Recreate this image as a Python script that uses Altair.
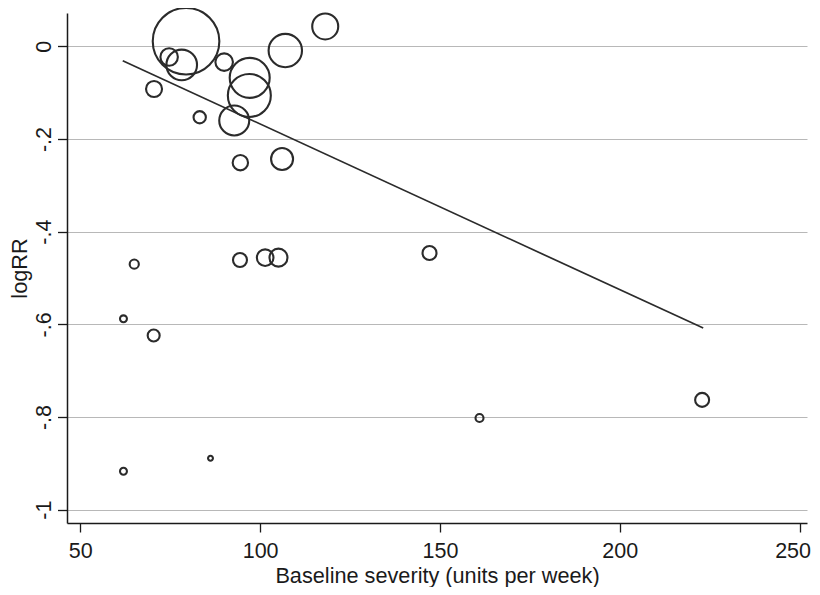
import altair as alt
import pandas as pd

# Study-level data
severity = [79.4, 74.7, 78.2, 90.0, 97.1, 97.0, 107.0, 118.1, 70.5, 83.2, 92.8, 94.5,
            106.1, 65.0, 94.4, 101.4, 105.1, 147.1, 62.0, 70.4, 62.0, 86.2, 161.0, 222.9]
log_rr = [0.011, -0.023, -0.040, -0.034, -0.068, -0.106, -0.009, 0.043, -0.092, -0.153, -0.160, -0.251,
          -0.243, -0.470, -0.461, -0.456, -0.456, -0.446, -0.588, -0.624, -0.917, -0.889, -0.802, -0.763]
weight = [1109, 76, 234, 77, 400, 462, 279, 169, 64, 38, 225, 59,
          121, 21, 49, 69, 81, 49, 12, 36, 12, 6, 16, 49]

# Fitted meta-regression line (end points)
fit_x = [61.8, 223.2]
fit_y = [-0.031, -0.608]

y_ticks = [0, -0.2, -0.4, -0.6, -0.8, -1]
y_tick_labels = ["0", "-.2", "-.4", "-.6", "-.8", "-1"]
x_ticks = [50, 100, 150, 200, 250]

pts = pd.DataFrame({"severity": severity, "logRR": log_rr, "weight": weight})
fit = pd.DataFrame({"severity": fit_x, "logRR": fit_y})

label_expr = ""
for v, lab in zip(y_ticks, y_tick_labels):
    label_expr += f"abs(datum.value - ({v})) < 1e-6 ? '{lab}' : "
label_expr += "datum.label"

FONT = "Liberation Sans"
INK = "#2b2b2b"

x_enc = alt.X("severity:Q",
              scale=alt.Scale(domain=[46.3, 252.06], nice=False, zero=False),
              axis=alt.Axis(values=x_ticks, title="Baseline severity (units per week)",
                            grid=False, tickSize=9, labelPadding=8,
                            labelOffset={"condition": {"test": f"datum.value == {x_ticks[-1]}", "value": -7},
                                         "value": 0},
                            titleBaseline="alphabetic", titleY=59))
y_enc = alt.Y("logRR:Q",
              scale=alt.Scale(domain=[-1.0287, 0.072], nice=False, zero=False),
              axis=alt.Axis(values=y_ticks, labelExpr=label_expr, title="logRR",
                            grid=True, gridColor="#b8b8b8", gridWidth=1,
                            tickSize=9.5, labelAngle=-90, labelAlign="center",
                            labelBaseline="alphabetic", labelPadding=7,
                            titleAngle=-90, titleBaseline="alphabetic",
                            titleX=-41, titleY=255))

points = alt.Chart(pts).mark_point(shape="circle", filled=False, color=INK,
                                   strokeWidth=2.1, opacity=1).encode(
    x=x_enc, y=y_enc,
    size=alt.Size("weight:Q", scale=alt.Scale(type="linear", domain=[0, 1000], range=[0, 4000]),
                  legend=None),
)

line = alt.Chart(fit).mark_line(color=INK, strokeWidth=1.7).encode(
    x="severity:Q", y="logRR:Q"
)

chart = alt.layer(points, line).properties(
    width=740, height=510,
    autosize=alt.AutoSizeParams(type="none"),
    padding={"left": 59, "top": 5, "right": 5, "bottom": 64},
    background="white",
).configure_view(stroke=None).configure_axis(
    labelFont=FONT, titleFont=FONT, labelFontSize=21.5, titleFontSize=21.7,
    labelColor="#1a1a1a", titleColor="#1a1a1a", titleFontWeight="normal",
    domainColor="#1a1a1a", domainWidth=1.5, tickColor="#1a1a1a", tickWidth=1.3,
)

chart.save("out.html", embed_options={"renderer": "svg", "actions": False})
